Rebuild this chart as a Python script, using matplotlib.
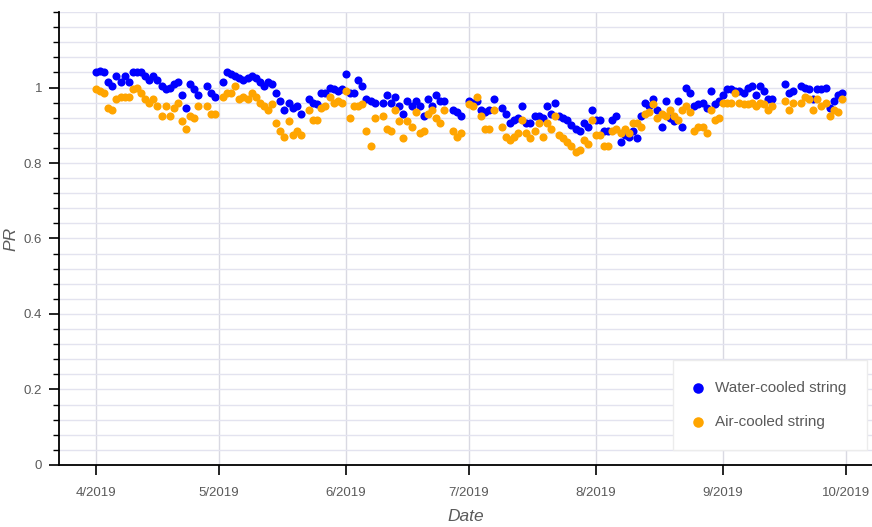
import numpy as np
import pandas as pd
import matplotlib
matplotlib.use("Agg")
import matplotlib.pyplot as plt
from matplotlib.ticker import MultipleLocator

# Day offsets from 1 April 2019 of each daily measurement
day = [0, 1, 2, 3, 4, 5, 6, 7, 8, 9, 10, 11, 12, 13, 14, 15, 16, 17, 18, 19,
       20, 21, 22, 23, 24, 25, 27, 28, 29, 31, 32, 33, 34, 35, 36, 37, 38, 39,
       40, 41, 42, 43, 44, 45, 46, 47, 48, 49, 50, 52, 53, 54, 55, 56, 57, 58,
       59, 60, 61, 62, 63, 64, 65, 66, 67, 68, 70, 71, 72, 73, 74, 75, 76, 77,
       78, 79, 80, 81, 82, 83, 84, 85, 87, 88, 89, 91, 92, 93, 94, 95, 96, 97,
       99, 100, 101, 102, 103, 104, 105, 106, 107, 108, 109, 110, 111, 112,
       113, 114, 115, 116, 117, 118, 119, 120, 121, 122, 123, 124, 125, 126,
       127, 128, 129, 130, 131, 132, 133, 134, 135, 136, 137, 138, 139, 140,
       141, 142, 143, 144, 145, 146, 147, 148, 149, 150, 151, 152, 153, 154,
       155, 156, 157, 158, 159, 160, 161, 162, 163, 164, 165, 168, 169, 170,
       172, 173, 174, 175, 176, 177, 178, 179, 180, 181, 182]

pr_water = [1.04, 1.045, 1.04, 1.015, 1.005, 1.03, 1.015, 1.03, 1.015, 1.04,
            1.04, 1.04, 1.03, 1.02, 1.03, 1.02, 1.005, 0.995, 1.0, 1.01,
            1.015, 0.98, 0.945, 1.01, 0.995, 0.98, 1.005, 0.985, 0.975, 1.015,
            1.04, 1.035, 1.03, 1.025, 1.02, 1.025, 1.03, 1.025, 1.015, 1.005,
            1.015, 1.01, 0.985, 0.965, 0.94, 0.96, 0.945, 0.95, 0.93, 0.97,
            0.96, 0.955, 0.985, 0.985, 1.0, 0.995, 0.99, 0.995, 1.035, 0.985,
            0.985, 1.02, 1.005, 0.97, 0.965, 0.96, 0.96, 0.98, 0.96, 0.975,
            0.95, 0.93, 0.965, 0.95, 0.965, 0.95, 0.925, 0.97, 0.95, 0.98,
            0.965, 0.965, 0.94, 0.935, 0.925, 0.965, 0.96, 0.965, 0.94, 0.935,
            0.94, 0.97, 0.945, 0.93, 0.905, 0.915, 0.92, 0.95, 0.905, 0.905,
            0.925, 0.925, 0.92, 0.95, 0.93, 0.96, 0.925, 0.92, 0.915, 0.9,
            0.89, 0.885, 0.905, 0.895, 0.94, 0.915, 0.915, 0.885, 0.885, 0.915,
            0.925, 0.855, 0.875, 0.87, 0.885, 0.865, 0.925, 0.96, 0.95, 0.97,
            0.94, 0.895, 0.965, 0.92, 0.91, 0.965, 0.895, 1.0, 0.985, 0.95,
            0.955, 0.96, 0.945, 0.99, 0.955, 0.965, 0.98, 0.995, 0.995, 0.99,
            0.99, 0.985, 1.0, 1.005, 0.98, 1.005, 0.99, 0.97, 0.97, 1.01,
            0.985, 0.99, 1.005, 1.0, 0.995, 0.97, 0.995, 0.995, 1.0, 0.945,
            0.965, 0.98, 0.985]

pr_air = [0.995, 0.99, 0.985, 0.945, 0.94, 0.97, 0.975, 0.975, 0.975, 0.995,
          1.0, 0.985, 0.97, 0.96, 0.97, 0.95, 0.925, 0.95, 0.925, 0.945,
          0.96, 0.91, 0.89, 0.925, 0.92, 0.95, 0.95, 0.93, 0.93, 0.975,
          0.985, 0.985, 1.005, 0.97, 0.975, 0.97, 0.985, 0.975, 0.96, 0.95,
          0.94, 0.955, 0.905, 0.885, 0.87, 0.91, 0.875, 0.885, 0.875, 0.94,
          0.915, 0.915, 0.945, 0.95, 0.975, 0.96, 0.965, 0.96, 0.99, 0.92,
          0.95, 0.95, 0.955, 0.885, 0.845, 0.92, 0.925, 0.89, 0.885, 0.94,
          0.91, 0.865, 0.91, 0.895, 0.935, 0.88, 0.885, 0.93, 0.94, 0.92,
          0.905, 0.94, 0.885, 0.87, 0.88, 0.955, 0.95, 0.975, 0.925, 0.89,
          0.89, 0.94, 0.895, 0.87, 0.86, 0.87, 0.88, 0.915, 0.88, 0.865,
          0.885, 0.905, 0.87, 0.905, 0.89, 0.925, 0.875, 0.865, 0.855, 0.845,
          0.83, 0.835, 0.86, 0.85, 0.915, 0.875, 0.875, 0.845, 0.845, 0.885,
          0.89, 0.88, 0.89, 0.88, 0.905, 0.905, 0.895, 0.93, 0.935, 0.955,
          0.92, 0.93, 0.925, 0.94, 0.925, 0.915, 0.94, 0.95, 0.935, 0.885,
          0.895, 0.895, 0.88, 0.94, 0.915, 0.92, 0.96, 0.96, 0.96, 0.985,
          0.96, 0.955, 0.955, 0.96, 0.95, 0.96, 0.955, 0.94, 0.95, 0.965,
          0.94, 0.96, 0.96, 0.975, 0.97, 0.94, 0.97, 0.95, 0.96, 0.925,
          0.94, 0.935, 0.97]

series_labels = ["Water-cooled string", "Air-cooled string"]
month_ticks = ["2019-04-01", "2019-05-01", "2019-06-01", "2019-07-01",
               "2019-08-01", "2019-09-01", "2019-10-01"]
month_labels = ["4/2019", "5/2019", "6/2019", "7/2019", "8/2019", "9/2019",
                "10/2019"]
y_ticks = [0, 0.2, 0.4, 0.6, 0.8, 1.0]
y_labels = ["0", "0.2", "0.4", "0.6", "0.8", "1"]

start = pd.Timestamp("2019-04-01")
dates = start + pd.to_timedelta(day, unit="D")

plt.rcParams["font.family"] = ["Liberation Sans Narrow", "Liberation Sans",
                               "DejaVu Sans"]
label_grey = "#5a5a5a"

fig = plt.figure(figsize=(8.72, 5.27), dpi=100)
ax = fig.add_axes([0.0677, 0.1177, 0.9323, 0.8595])

ax.scatter(dates, pr_water, s=34, color="#0000ff", linewidths=0,
           label=series_labels[0], zorder=3)
ax.scatter(dates, pr_air, s=34, color="#ffa500", linewidths=0,
           label=series_labels[1], zorder=3)

ax.set_xlim(pd.Timestamp("2019-03-23"), pd.Timestamp("2019-10-07 08:00"))
ax.set_ylim(0, 1.2)

ax.set_xticks(pd.to_datetime(month_ticks))
ax.set_xticklabels(month_labels)
ax.set_yticks(y_ticks)
ax.set_yticklabels(y_labels)
ax.yaxis.set_minor_locator(MultipleLocator(0.04))

# Grid: horizontal at every minor step, vertical at month boundaries
ax.grid(which="both", axis="y", color="#e3e3ef", linewidth=1.0, zorder=0)
ax.grid(which="major", axis="x", color="#d9d9e2", linewidth=1.0, zorder=0)
ax.set_axisbelow(True)

for side in ("top", "right"):
    ax.spines[side].set_visible(False)
for side in ("left", "bottom"):
    ax.spines[side].set_color("black")
    ax.spines[side].set_linewidth(1.3)

ax.tick_params(axis="both", which="major", direction="out", length=7,
               width=1.2, color="black", labelcolor=label_grey, labelsize=9.5)
ax.tick_params(axis="y", which="major", pad=5)
ax.tick_params(axis="x", which="major", pad=9)
ax.tick_params(axis="y", which="minor", direction="out", length=4, width=1.0,
               color="black")

ax.set_xlabel("Date", fontsize=12.5, style="italic", color=label_grey,
              labelpad=7)
ax.set_ylabel("PR", fontsize=12.5, style="italic", color=label_grey,
              labelpad=4)

leg = ax.legend(loc="lower right", bbox_to_anchor=(0.994, 0.033),
                borderaxespad=0, fontsize=11, frameon=True, fancybox=False,
                framealpha=1.0, edgecolor="#ececec", borderpad=1.35,
                labelspacing=1.35, handlelength=0.6, handletextpad=0.8,
                markerscale=1.3)
for t in leg.get_texts():
    t.set_color(label_grey)

fig.savefig("out.png", dpi=100, facecolor="white")
